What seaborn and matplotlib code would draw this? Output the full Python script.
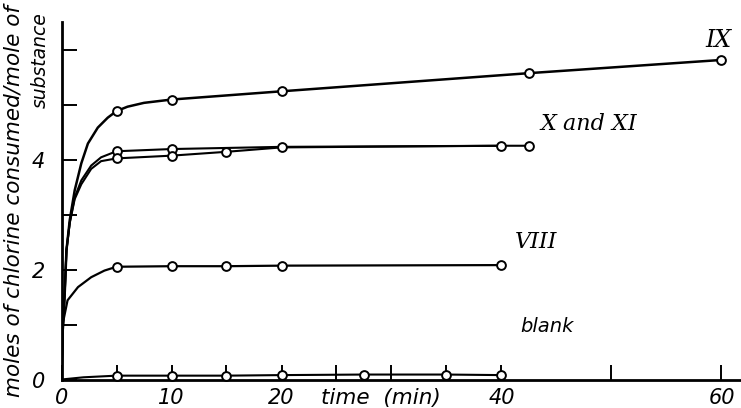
import matplotlib
matplotlib.use("Agg")
import matplotlib.pyplot as plt
import seaborn as sns
import pandas as pd

# ---------------- data ----------------
# measured points (open circles)
ix_t = [5, 10, 20, 42.5, 60]
ix_y = [4.88, 5.09, 5.24, 5.57, 5.81]
x_t = [5, 10, 20, 42.5]
x_y = [4.15, 4.19, 4.23, 4.25]
xi_t = [5, 10, 15, 40]
xi_y = [4.02, 4.07, 4.14, 4.25]
viii_t = [5, 10, 15, 20, 40]
viii_y = [2.05, 2.06, 2.06, 2.07, 2.08]
blank_t = [5, 10, 15, 20, 27.5, 35, 40]
blank_y = [0.07, 0.07, 0.07, 0.08, 0.09, 0.09, 0.08]

# traced curve shapes
ix_curve_t = [0, 0.1, 0.3, 0.45, 0.75, 1.2, 1.8, 2.4, 3.3, 4.2, 5, 6, 7.5, 10, 20, 42.5, 60]
ix_curve_y = [0, 0.85, 1.6, 2.35, 2.9, 3.44, 3.93, 4.29, 4.58, 4.76, 4.88, 4.96, 5.03, 5.09, 5.24, 5.57, 5.81]
x_curve_t = [0, 0.1, 0.3, 0.45, 0.75, 1.2, 1.8, 2.7, 3.6, 5, 10, 20, 40, 42.5]
x_curve_y = [0, 0.85, 1.6, 2.35, 2.85, 3.31, 3.62, 3.89, 4.04, 4.15, 4.19, 4.23, 4.25, 4.25]
xi_curve_t = [0, 0.1, 0.3, 0.45, 0.75, 1.2, 1.8, 2.7, 3.6, 5, 10, 15, 20, 40]
xi_curve_y = [0, 0.85, 1.6, 2.35, 2.85, 3.28, 3.55, 3.83, 3.97, 4.02, 4.07, 4.14, 4.22, 4.25]
viii_curve_t = [0, 0.08, 0.15, 0.55, 1.5, 2.7, 3.9, 5, 10, 15, 20, 40]
viii_curve_y = [0, 0.6, 1.05, 1.44, 1.68, 1.86, 1.98, 2.05, 2.06, 2.06, 2.07, 2.08]
blank_curve_t = [0, 2, 5, 10, 15, 20, 27.5, 35, 40]
blank_curve_y = [0, 0.04, 0.07, 0.07, 0.07, 0.08, 0.09, 0.09, 0.08]

# axis ticks / labels
x_ticks = [0, 5, 10, 15, 20, 25, 30, 35, 40, 50, 60]
x_ticklabels = ["0", "", "10", "", "20", "", "", "", "40", "", "60"]
y_ticks = [0, 1, 2, 3, 4, 5, 6]
y_ticklabels = ["0", "", "2", "", "4", "", ""]

series_labels = ["IX", "X and XI", "VIII", "blank"]
label_pos = [(59.7, 6.17), (43.5, 4.65), (41.2, 2.5), (41.7, 0.97)]

# ---------------- figure ----------------
sns.set_style("white")
plt.rcParams["font.family"] = ["DejaVu Sans"]
plt.rcParams["text.color"] = "black"
plt.rcParams["axes.labelcolor"] = "black"
plt.rcParams["xtick.color"] = "black"
plt.rcParams["ytick.color"] = "black"

W, H = 741, 408
fig = plt.figure(figsize=(W / 100, H / 100), dpi=100)
x0px, y0px, ytop = 61.5, 379.5, 22
ax = fig.add_axes([x0px / W, 1 - y0px / H, 1 - x0px / W, (y0px - ytop) / H])
ax.set_xlim(0, (W - x0px) / 11.0)
ax.set_ylim(0, (y0px - ytop) / 55.0)

curves = [
    (ix_curve_t, ix_curve_y, 1.8),
    (x_curve_t, x_curve_y, 1.5),
    (xi_curve_t, xi_curve_y, 1.5),
    (viii_curve_t, viii_curve_y, 1.6),
    (blank_curve_t, blank_curve_y, 1.5),
]
for t, y, lw in curves:
    df = pd.DataFrame({"t": t, "y": y})
    sns.lineplot(data=df, x="t", y="y", ax=ax, color="black", lw=lw,
                 sort=False, estimator=None, zorder=2)

for t, y in [(ix_t, ix_y), (x_t, x_y), (xi_t, xi_y), (viii_t, viii_y), (blank_t, blank_y)]:
    df = pd.DataFrame({"t": t, "y": y})
    sns.scatterplot(data=df, x="t", y="y", ax=ax, s=40, facecolor="white",
                    edgecolor="black", linewidth=1.4, zorder=4, clip_on=False)

ax.set_xlabel("")
ax.set_ylabel("")
for s in ["top", "right"]:
    ax.spines[s].set_visible(False)
for s in ["left", "bottom"]:
    ax.spines[s].set_linewidth(2)
    ax.spines[s].set_color("black")

ax.set_xticks(x_ticks)
ax.set_xticklabels(x_ticklabels)
ax.set_yticks(y_ticks)
ax.set_yticklabels(y_ticklabels)
ax.tick_params(axis="both", which="major", direction="in", length=11, width=1.4,
               color="black", labelsize=15, labelcolor="black",
               bottom=True, left=True, top=False, right=False)
ax.tick_params(axis="x", pad=6)
ax.tick_params(axis="y", pad=12)
for lab in ax.get_xticklabels() + ax.get_yticklabels():
    lab.set_fontstyle("italic")

ax.text(29.0, -0.155, "time  (min)", ha="center", va="top", fontsize=15.5,
        fontstyle="italic", color="black", clip_on=False)

fig.text(14 / W, 1 - 201 / H, "moles of chlorine consumed/mole of", rotation=90,
         ha="center", va="center", fontsize=15.5, fontstyle="italic", color="black")
fig.text(40 / W, 1 - 60 / H, "substance", rotation=90,
         ha="center", va="center", fontsize=13.5, fontstyle="italic", color="black")

for lab, (tx, ty) in zip(series_labels, label_pos):
    if lab == "IX":
        ax.text(tx, ty, lab, ha="center", va="center", fontsize=17, color="black",
                family="DejaVu Serif", fontstyle="italic")
    elif lab == "blank":
        ax.text(tx, ty, lab, ha="left", va="center", fontsize=14, color="black",
                fontstyle="italic")
    else:
        ax.text(tx, ty, lab, ha="left", va="center", fontsize=16, color="black",
                family="DejaVu Serif", fontstyle="italic")

fig.savefig("out.png", dpi=100)
